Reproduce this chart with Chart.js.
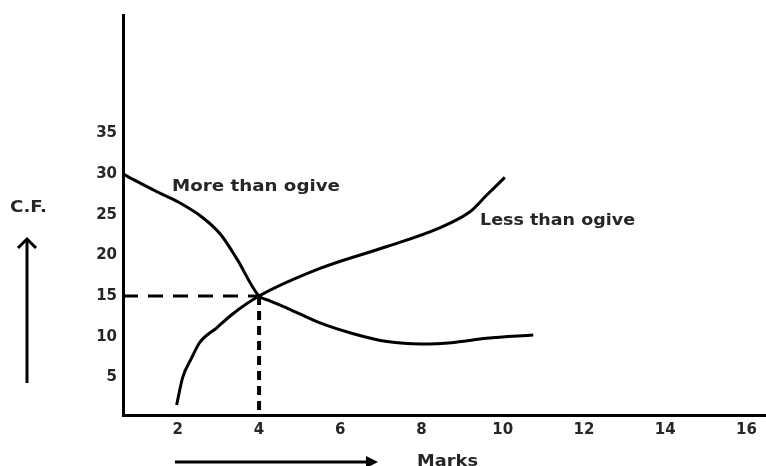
<!DOCTYPE html>
<html>
<head>
    <title>Ogives</title>
    <script src="https://cdn.jsdelivr.net/npm/chart.js"></script>
    <style>
        body { margin: 0; background: #ffffff; }
        #wrap { width: 766px; height: 466px; }
    </style>
</head>
<body>
    <div id="wrap"><canvas id="chartOgive"></canvas></div>

    <script>
        // values
        const xTicks = [2, 4, 6, 8, 10, 12, 14, 16];
        const yTicks = [5, 10, 15, 20, 25, 30, 35];

        const moreX = [0.65, 1.5, 2.0, 2.6, 3.05, 3.45, 4.0, 4.25, 4.7, 5.5, 6.3, 7.15, 8.0, 8.8, 9.6, 10.75];
        const moreY = [30, 27.8, 26.6, 24.7, 22.6, 19.6, 15.0, 14.45, 13.5, 11.7, 10.4, 9.4, 9.1, 9.3, 9.8, 10.2];

        const lessX = [1.97, 2.12, 2.34, 2.54, 2.96, 3.35, 4.0, 5.5, 7.15, 8.4, 9.2, 9.6, 10.05];
        const lessY = [1.6, 5.0, 7.4, 9.3, 11.1, 12.8, 15.0, 18.4, 21.1, 23.3, 25.4, 27.4, 29.6];

        const medianX = 4;
        const medianY = 15;

        const toPoints = (xs, ys) => xs.map((x, i) => ({ x: x, y: ys[i] }));

        const FONT = "'DejaVu Sans', sans-serif";
        const TXT = "#262626";
        const Y_MIN = 0.37;

        // text stretched to the width seen in the picture
        function fitText(ctx, txt, left, baseY, width) {
            const w = ctx.measureText(txt).width;
            ctx.save();
            ctx.translate(left, baseY);
            ctx.scale(width / w, 1);
            ctx.fillText(txt, 0, 0);
            ctx.restore();
        }

        // labels and the two arrows round the axes
        const extras = {
            id: "extras",
            afterDatasetsDraw(chart) {
                const ctx = chart.ctx;
                ctx.save();
                ctx.fillStyle = TXT;
                ctx.font = "bold 15px " + FONT;
                ctx.textBaseline = "alphabetic";
                ctx.textAlign = "left";
                fitText(ctx, "More than ogive", 172, 191, 168);
                fitText(ctx, "Less than ogive", 480, 225, 155);
                fitText(ctx, "C.F.", 10, 212, 37);
                fitText(ctx, "Marks", 417, 466, 61);

                ctx.strokeStyle = "#000";
                ctx.lineWidth = 3;
                ctx.lineCap = "butt";
                // vertical arrow
                ctx.beginPath();
                ctx.moveTo(27, 383);
                ctx.lineTo(27, 240);
                ctx.stroke();
                ctx.beginPath();
                ctx.moveTo(18, 248);
                ctx.lineTo(27, 239);
                ctx.lineTo(36, 248);
                ctx.stroke();
                // horizontal arrow
                ctx.beginPath();
                ctx.moveTo(175, 462);
                ctx.lineTo(370, 462);
                ctx.stroke();
                ctx.fillStyle = "#000";
                ctx.beginPath();
                ctx.moveTo(378, 462);
                ctx.lineTo(366, 456);
                ctx.lineTo(366, 468);
                ctx.closePath();
                ctx.fill();
                ctx.restore();
            }
        };

        const ctxOgive = document.getElementById("chartOgive").getContext("2d");
        const chartOgive = new Chart(ctxOgive, {
            type: "line",
            data: {
                datasets: [
                    {
                        label: "More than ogive",
                        data: toPoints(moreX, moreY),
                        borderColor: "#000", borderWidth: 3,
                        pointRadius: 0, cubicInterpolationMode: "monotone", fill: false
                    },
                    {
                        label: "Less than ogive",
                        data: toPoints(lessX, lessY),
                        borderColor: "#000", borderWidth: 3,
                        pointRadius: 0, cubicInterpolationMode: "monotone", fill: false
                    },
                    {
                        label: "median h",
                        data: [{ x: 0.65, y: medianY }, { x: medianX, y: medianY }],
                        borderColor: "#000", borderWidth: 3, borderDash: [15, 10],
                        pointRadius: 0, tension: 0, fill: false
                    },
                    {
                        label: "median v",
                        data: [{ x: medianX, y: medianY }, { x: medianX, y: Y_MIN }],
                        borderColor: "#000", borderWidth: 4, borderDash: [9, 6],
                        pointRadius: 0, tension: 0, fill: false
                    }
                ]
            },
            options: {
                responsive: true,
                maintainAspectRatio: false,
                animation: false,
                layout: { padding: { top: 13, left: 0, right: 0, bottom: 0 } },
                plugins: { legend: { display: false }, tooltip: { enabled: false } },
                scales: {
                    x: {
                        type: "linear",
                        min: 0.65, max: 16.48,
                        afterBuildTicks: s => { s.ticks = xTicks.map(v => ({ value: v })); },
                        afterFit: s => { s.height = 51; },
                        grid: { display: false, drawTicks: false },
                        border: { display: true, color: "#000", width: 3 },
                        ticks: { autoSkip: false, maxRotation: 0, padding: 6, color: TXT, font: { family: FONT, size: 15, weight: "bold" } }
                    },
                    y: {
                        type: "linear",
                        min: Y_MIN, max: 49.57,
                        afterBuildTicks: s => { s.ticks = yTicks.map(v => ({ value: v })); },
                        afterFit: s => { s.width = 123; },
                        grid: { display: false, drawTicks: false },
                        border: { display: true, color: "#000", width: 3 },
                        ticks: { autoSkip: false, padding: 6, color: TXT, font: { family: FONT, size: 15, weight: "bold" } }
                    }
                }
            },
            plugins: [extras]
        });
    </script>
</body>
</html>
